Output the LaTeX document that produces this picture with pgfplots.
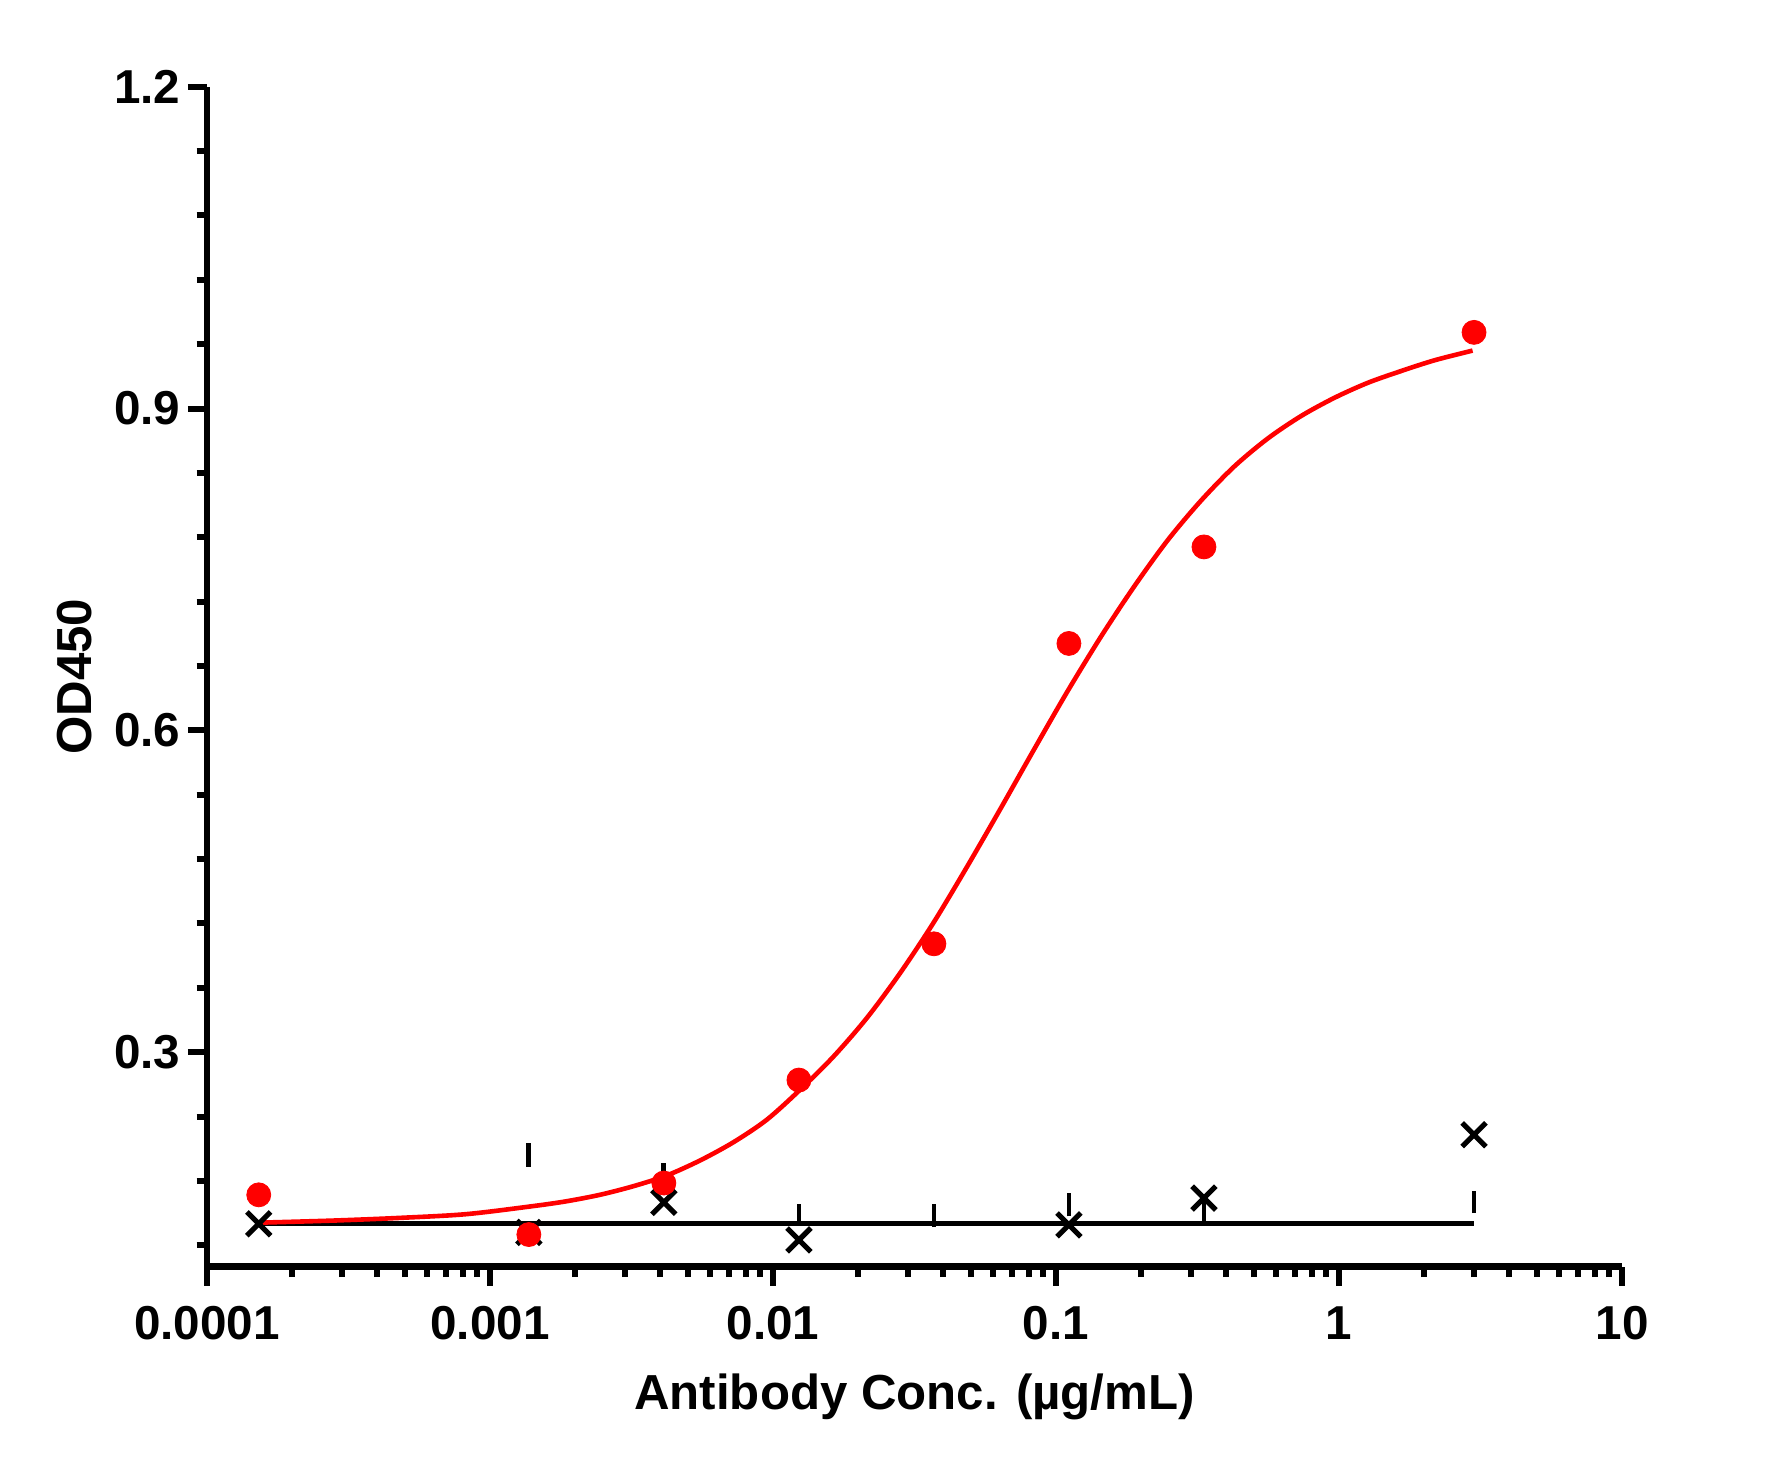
\documentclass[border=0pt]{standalone}
\usepackage{fontspec}
\setmainfont{Liberation Sans}
\usepackage{pgfplots}
\pgfplotsset{compat=1.18}

\definecolor{fitred}{RGB}{255,0,0}

\begin{document}
\begin{tikzpicture}
\begin{axis}[
    name=ax,
    scale only axis,
    width=353.75pt, height=295pt,
    xmode=log,
    xmin=1e-4, xmax=10,
    ymin=0.1, ymax=1.2,
    axis lines=left,
    axis line style={-, line width=1.7pt},
    tick align=outside,
    tick style={black, line width=1.5pt},
    major tick length=4.8pt,
    minor tick length=2.6pt,
    xtick={1e-4,1e-3,1e-2,1e-1,1,10},
    xticklabels={0.0001,0.001,0.01,0.1,1,10},
    minor xtick={2e-4,3e-4,4e-4,5e-4,6e-4,7e-4,8e-4,9e-4,
                 2e-3,3e-3,4e-3,5e-3,6e-3,7e-3,8e-3,9e-3,
                 0.02,0.03,0.04,0.05,0.06,0.07,0.08,0.09,
                 0.2,0.3,0.4,0.5,0.6,0.7,0.8,0.9,
                 2,3,4,5,6,7,8,9},
    ytick={0.3,0.6,0.9,1.2},
    yticklabels={0.3,0.6,0.9,1.2},
    minor ytick={0.12,0.18,0.24,0.36,0.42,0.48,0.54,0.66,0.72,0.78,0.84,0.96,1.02,1.08,1.14},
    ticklabel style={font=\bfseries\fontsize{11.9}{13}\selectfont},
    xticklabel style={anchor=base, inner sep=0pt, yshift=-13.5pt},
    yticklabel style={anchor=east, inner sep=0pt, xshift=-1.7pt},
    xlabel={Antibody Conc. (µg/mL)},
    ylabel={OD450},
    label style={font=\bfseries\fontsize{12.3}{14}\selectfont},
    xlabel style={at={(axis description cs:0.5,0)}, anchor=base, yshift=-35.75pt, inner sep=0pt},
    ylabel style={at={(axis description cs:-0.0933,0.5)}, anchor=center, rotate=0, inner sep=0pt},
    clip=false,
]

% control series: flat fit line
\addplot[black, line width=1.2pt, forget plot] coordinates {
    (1.524e-4,0.140) (3.0,0.140)
};

% control series: visible error bar pieces
\addplot[black, line width=1.2pt, unbounded coords=jump, forget plot] coordinates {
    (1.372e-3,0.193) (1.372e-3,0.215) (1.372e-3,nan)
    (4.115e-3,0.182) (4.115e-3,0.197) (4.115e-3,nan)
    (1.235e-2,0.140) (1.235e-2,0.158) (1.235e-2,nan)
    (3.704e-2,0.137) (3.704e-2,0.158) (3.704e-2,nan)
    (0.1111,0.147) (0.1111,0.169) (0.1111,nan)
    (0.3333,0.142) (0.3333,0.164) (0.3333,nan)
    (3.0,0.150) (3.0,0.171)
};

% sample: fitted curve
\addplot[fitred, line width=1.15pt, line join=round, smooth, forget plot] coordinates {
    (1.5e-4,0.141) (2.78e-4,0.143) (4.786e-4,0.1455) (8.241e-4,0.149)
    (1.419e-3,0.1565) (1.862e-3,0.161) (2.443e-3,0.167) (3.206e-3,0.175)
    (4.207e-3,0.185) (5.52e-3,0.199) (7.244e-3,0.216) (9.506e-3,0.237)
    (0.01247,0.265) (0.01637,0.296) (0.02148,0.332) (0.02818,0.374)
    (0.03698,0.421) (0.04853,0.473) (0.06368,0.527) (0.08356,0.582)
    (0.1096,0.636) (0.1439,0.687) (0.1888,0.734) (0.2477,0.777)
    (0.3251,0.814) (0.4266,0.846) (0.5598,0.872) (0.7345,0.893)
    (0.9638,0.910) (1.265,0.924) (1.660,0.935) (2.178,0.945)
    (2.965,0.954)
};

% control series: points
\addplot[only marks, mark=x, mark size=4.2pt, mark options={black, line width=1.3pt}] coordinates {
    (1.524e-4,0.140) (1.372e-3,0.132) (4.115e-3,0.160) (1.235e-2,0.125)
    (0.1111,0.139) (0.3333,0.164) (3.0,0.223)
};

% sample: points
\addplot[only marks, mark=*, mark size=3pt, mark options={fill=fitred, draw=fitred, line width=0.2pt}] coordinates {
    (1.524e-4,0.167) (1.372e-3,0.130) (4.115e-3,0.178) (1.235e-2,0.274)
    (3.704e-2,0.401) (0.1111,0.681) (0.3333,0.771) (3.0,0.971)
};

\end{axis}
\pgfresetboundingbox
\path[use as bounding box] ([shift={(-51.75pt,-49.25pt)}]ax.south west) rectangle ([shift={(38.25pt,21.675pt)}]ax.north east);
\end{tikzpicture}
\end{document}
